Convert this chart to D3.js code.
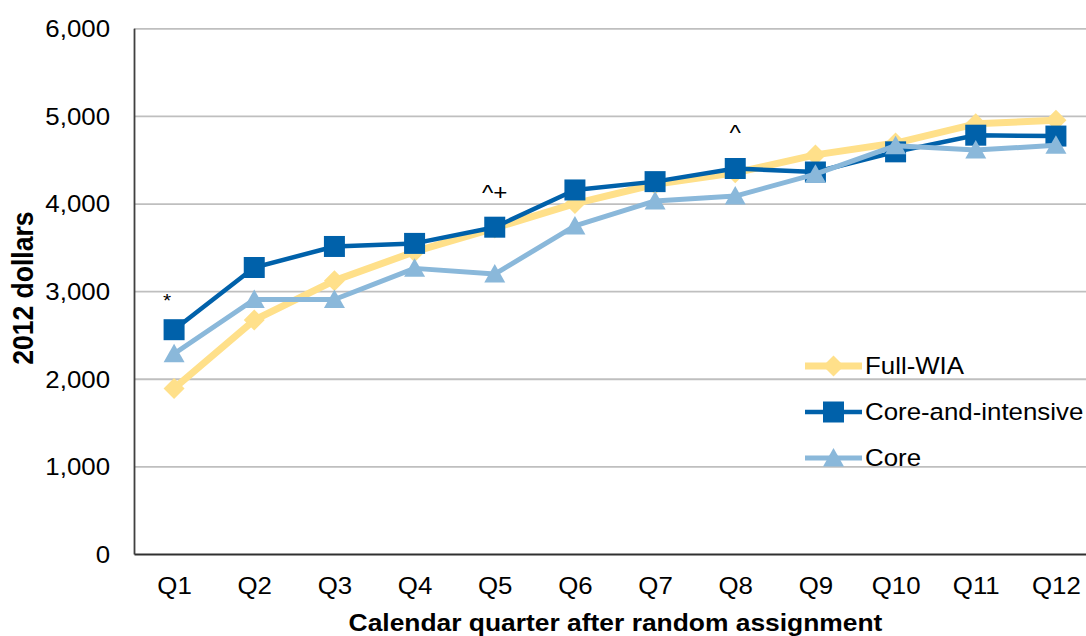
<!DOCTYPE html>
<html>
<head>
<meta charset="utf-8">
<script src="https://cdn.jsdelivr.net/npm/d3@7"></script>
<style>
  html, body { margin: 0; padding: 0; background: #fff; }
  svg { display: block; }
  text { font-family: "Liberation Sans", Arial, sans-serif; fill: #000; }
</style>
</head>
<body>
<svg id="chart" width="1086" height="636"></svg>
<script>
const quarters = ["Q1","Q2","Q3","Q4","Q5","Q6","Q7","Q8","Q9","Q10","Q11","Q12"];
const fullWIA = [1890, 2670, 3120, 3450, 3720, 4000, 4220, 4350, 4555, 4690, 4910, 4950];
const coreIntensive = [2560, 3270, 3510, 3545, 3730, 4155, 4250, 4400, 4360, 4590, 4780, 4770];
const core = [2285, 2905, 2905, 3260, 3195, 3745, 4030, 4085, 4335, 4660, 4610, 4665];
const seriesNames = ["Full-WIA", "Core-and-intensive", "Core"];
const yTicks = [0, 1000, 2000, 3000, 4000, 5000, 6000];
const annotations = [
  { q: "Q1", text: "*", value: 2560 },
  { q: "Q5", text: "^+", value: 3730 },
  { q: "Q8", text: "^", value: 4400 }
];

(function () {
const svg = d3.select("#chart");
const pLeft = 134, pRight = 1096, pTop = 28.3, pBottom = 554;
const SX = 1.1; // horizontal text stretch seen in reference

const x = d3.scalePoint().domain(quarters).range([pLeft, pRight]).padding(0.5);
const y = d3.scaleLinear().domain([0, 6000]).range([pBottom, pTop]);

// gridlines
const grid = svg.append("g").attr("transform", `translate(${pLeft},0)`)
  .call(d3.axisLeft(y).tickValues(yTicks.filter(d => d > 0)).tickSize(-(pRight - pLeft)).tickFormat(""));
grid.select(".domain").remove();
grid.selectAll("line").attr("stroke", "#bfbfbf").attr("stroke-width", 1.8);

// y axis
const yAxis = svg.append("g").attr("transform", `translate(${pLeft},0)`)
  .call(d3.axisLeft(y).tickValues(yTicks).tickSize(0).tickFormat(d3.format(",")));
yAxis.select(".domain").attr("stroke", "#404040").attr("stroke-width", 1.8);
yAxis.selectAll("text")
  .attr("x", -24 / SX).attr("dy", "0.35em")
  .attr("transform", `scale(${SX},1)`)
  .style("font-size", "23.5px").attr("fill", "#000");

// x axis
const xAxis = svg.append("g").attr("transform", `translate(0,${pBottom})`)
  .call(d3.axisBottom(x).tickSize(0));
xAxis.select(".domain").attr("stroke", "#303030").attr("stroke-width", 2);
xAxis.selectAll(".tick text")
  .attr("y", 0).attr("dy", 0)
  .attr("transform", `translate(0,40) scale(${SX},1)`)
  .style("font-size", "23.5px").attr("fill", "#000");

// axis titles
svg.append("text")
  .attr("transform", `translate(${(pLeft + pRight) / 2 + 0.5},630.5) scale(${SX},1)`)
  .attr("text-anchor", "middle")
  .style("font-size", "24px").style("font-weight", "bold")
  .text("Calendar quarter after random assignment");

svg.append("text")
  .attr("transform", `translate(33,${(pTop + pBottom) / 2 - 3}) scale(${SX},1) rotate(-90)`)
  .attr("text-anchor", "middle")
  .style("font-size", "26.5px").style("font-weight", "bold")
  .text("2012 dollars");

// marker shapes
const diamondPath = "M0,-10.5L10.5,0L0,10.5L-10.5,0Z";
const squarePath = "M-10.5,-10.5H10.5V10.5H-10.5Z";
const trianglePath = "M0,-10L10.5,8.5L-10.5,8.5Z";

const series = [
  { name: seriesNames[0], values: fullWIA, color: "#ffe08a", width: 7, marker: diamondPath },
  { name: seriesNames[1], values: coreIntensive, color: "#0061aa", width: 4.5, marker: squarePath },
  { name: seriesNames[2], values: core, color: "#8ab8da", width: 5, marker: trianglePath }
];

const line = d3.line().x((d, i) => x(quarters[i])).y(d => y(d));

series.forEach(s => {
  const g = svg.append("g");
  g.append("path").datum(s.values)
    .attr("d", line).attr("fill", "none")
    .attr("stroke", s.color).attr("stroke-width", s.width)
    .attr("stroke-linejoin", "round");
  g.selectAll("path.m").data(s.values).enter().append("path")
    .attr("class", "m")
    .attr("d", s.marker)
    .attr("transform", (d, i) => `translate(${x(quarters[i])},${y(d)})`)
    .attr("fill", s.color);
});

// annotations
const annoOffset = { "*": { dx: -7, dy: 23, size: 19 }, "^+": { dx: 0, dy: 27, size: 22 }, "^": { dx: 0, dy: 28, size: 22 } };
annotations.forEach(a => {
  const o = annoOffset[a.text];
  svg.append("text")
    .attr("transform", `translate(${x(a.q) + o.dx},${y(a.value) - o.dy}) scale(${SX},1)`)
    .attr("text-anchor", "middle")
    .style("font-size", o.size + "px").attr("fill", "#404040")
    .text(a.text);
});

// legend
const legendY = [366, 412, 458];
series.forEach((s, i) => {
  const g = svg.append("g").attr("transform", `translate(0,${legendY[i]})`);
  g.append("line").attr("x1", 805).attr("x2", 862).attr("y1", 0).attr("y2", 0)
    .attr("stroke", s.color).attr("stroke-width", s.width);
  g.append("path").attr("d", s.marker).attr("transform", "translate(833.5,0)").attr("fill", s.color);
  g.append("text")
    .attr("transform", `translate(865,0) scale(${SX},1)`)
    .attr("dy", "0.35em")
    .style("font-size", "23.5px").attr("fill", "#000")
    .text(s.name);
});
})();
</script>
</body>
</html>
